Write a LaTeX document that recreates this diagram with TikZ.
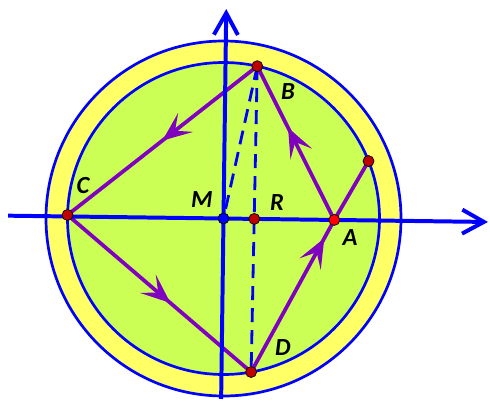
\documentclass[tikz,border=0pt]{standalone}
\usepackage{fontspec}
\setmainfont{Carlito}
\usetikzlibrary{arrows.meta,decorations.markings}

\definecolor{ringyellow}{RGB}{255,255,102}
\definecolor{diskgreen}{RGB}{204,255,85}
\definecolor{pathpurple}{RGB}{128,0,192}
\definecolor{ptred}{RGB}{190,0,0}

\tikzset{
  axis/.style={blue, line width=3.4pt, -{Straight Barb[length=0.65cm,width=0.72cm]}},
  rim/.style={blue, line width=2.3pt},
  helper/.style={blue, line width=2.4pt, dash pattern=on 0.42cm off 0.24cm},
  chord/.style={pathpurple, line width=3.2pt},
  flow/.style={chord, postaction={decorate},
    decoration={markings, mark=at position #1 with {\arrow{Stealth[length=0.88cm,width=0.72cm,inset=0.4cm]}}}},
  pt/.style={circle, draw=black, line width=0.6pt, fill=ptred, inner sep=0pt, minimum size=0.33cm},
  lbl/.style={font=\fontsize{21}{24}\selectfont\bfseries\itshape}
}

\begin{document}
\begin{tikzpicture}
  \useasboundingbox (-6.705,-5.475) rectangle (7.995,6.555);
  \coordinate (M) at (0,0);
  \coordinate (B) at (77.5:4.68);
  \coordinate (C) at (178.7:4.68);
  \coordinate (D) at (280.2:4.68);
  \coordinate (E) at (21.6:4.68);
  \coordinate (A) at (-0.75:3.324);
  \coordinate (R) at (-0.75:0.924);
  \coordinate (xl) at (179.25:6.465);
  \coordinate (xr) at (-0.75:7.935);
  \coordinate (yb) at (269.25:5.415);
  \coordinate (yt) at (89.25:6.285);
  % rings
  \draw[rim,fill=ringyellow] (M) circle (5.325);
  \draw[rim,fill=diskgreen] (M) circle (4.68);
  % dashed helpers
  \draw[helper] (B) -- (D);
  \draw[helper] (B) -- (M);
  % the path round the disk
  \draw[flow=0.5] (B) -- (C);
  \draw[flow=0.56] (C) -- (D);
  \draw[flow=0.88] (D) -- (A);
  \draw[flow=0.6] (A) -- (B);
  \draw[chord] (A) -- (E);
  % axes
  \draw[axis] (xl) -- (xr);
  \draw[axis] (yb) -- (yt);
  % points
  \node[pt] (dotB) at (B) {};
  \node[pt] (dotC) at (C) {};
  \node[pt] (dotD) at (D) {};
  \node[pt] (dotE) at (E) {};
  \node[pt] (dotR) at (R) {};
  \node[pt,fill=red] (dotA) at (A) {};
  \node[pt,fill=blue] (dotM) at (M) {};
  % labels
  \node[lbl] (labB) at (1.935,3.795) {B};
  \node[lbl] (labC) at (-4.215,0.975) {C};
  \node[lbl] (labM) at (-0.645,0.555) {M};
  \node[lbl] (labR) at (1.605,0.465) {R};
  \node[lbl] (labA) at (3.795,-0.585) {A};
  \node[lbl] (labD) at (1.785,-3.885) {D};
\end{tikzpicture}
\end{document}
